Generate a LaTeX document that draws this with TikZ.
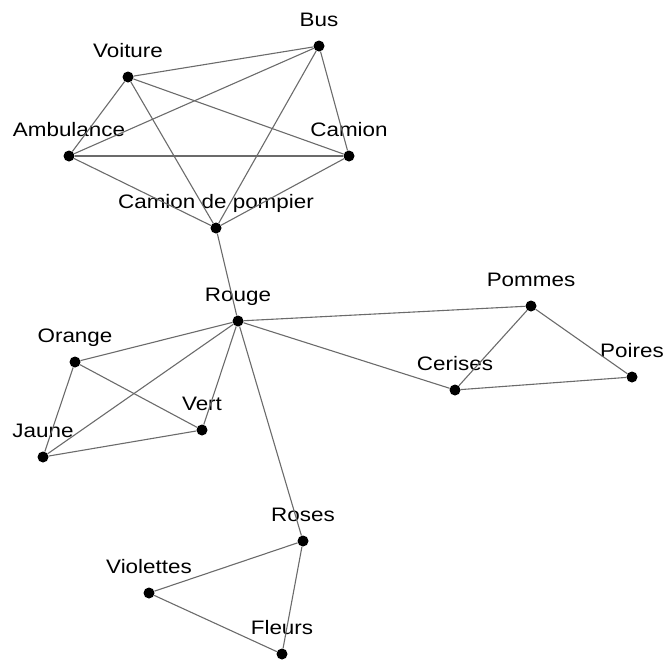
\documentclass[tikz,border=0pt]{standalone}
\usepackage{fontspec}
\newfontfamily\lblfont{Liberation Sans}[FakeStretch=1.15]
\usetikzlibrary{calc}

\begin{document}
\begin{tikzpicture}[
      x=1pt, y=-1pt,
      dot/.style={
          circle,
          fill=black,
          inner sep=0pt,
          minimum size=11pt,
          label distance=0pt
        },
      lbl/.style={
          font=\lblfont\fontsize{19.5}{19.5}\selectfont,
          inner sep=0pt,
          anchor=base,
          yshift=13.5pt
        },
      edge/.style={
          draw=black!58,
          line width=1.1pt
        }
    ]
    \useasboundingbox (0,0) rectangle (667,659);

    % Nodes
    \node[dot, label={[lbl]above:Bus}] (bus) at (319,46) {};
    \node[dot, label={[lbl]above:Voiture}] (voiture) at (128,77) {};
    \node[dot, label={[lbl]above:Ambulance}] (ambulance) at (69,156) {};
    \node[dot, label={[lbl]above:Camion}] (camion) at (349,156) {};
    \node[dot, label={[lbl]above:Camion de pompier}] (pompier) at (216,228) {};
    \node[dot, label={[lbl]above:Rouge}] (rouge) at (238,321) {};
    \node[dot, label={[lbl]above:Orange}] (orange) at (75,362) {};
    \node[dot, label={[lbl]above:Vert}] (vert) at (202,430) {};
    \node[dot, label={[lbl]above:Jaune}] (jaune) at (43,457) {};
    \node[dot, label={[lbl]above:Pommes}] (pommes) at (531,306) {};
    \node[dot, label={[lbl]above:Poires}] (poires) at (632,377) {};
    \node[dot, label={[lbl]above:Cerises}] (cerises) at (455,390) {};
    \node[dot, label={[lbl]above:Roses}] (roses) at (303,541) {};
    \node[dot, label={[lbl]above:Violettes}] (violettes) at (149,593) {};
    \node[dot, label={[lbl]above:Fleurs}] (fleurs) at (282,654) {};

    % Edges
    \draw[edge] (voiture) -- (bus);
    \draw[edge] (voiture) -- (camion);
    \draw[edge] (voiture) -- (ambulance);
    \draw[edge] (voiture) -- (pompier);
    \draw[edge] (bus) -- (ambulance);
    \draw[edge] (bus) -- (camion);
    \draw[edge] (bus) -- (pompier);
    \draw[edge] (ambulance) -- (camion);
    \draw[edge] (ambulance) -- (pompier);
    \draw[edge] (camion) -- (pompier);
    \draw[edge] (pompier) -- (rouge);
    \draw[edge] (rouge) -- (pommes);
    \draw[edge] (rouge) -- (cerises);
    \draw[edge] (pommes) -- (cerises);
    \draw[edge] (pommes) -- (poires);
    \draw[edge] (cerises) -- (poires);
    \draw[edge] (rouge) -- (orange);
    \draw[edge] (rouge) -- (jaune);
    \draw[edge] (rouge) -- (vert);
    \draw[edge] (rouge) -- (roses);
    \draw[edge] (orange) -- (vert);
    \draw[edge] (orange) -- (jaune);
    \draw[edge] (jaune) -- (vert);
    \draw[edge] (roses) -- (violettes);
    \draw[edge] (roses) -- (fleurs);
    \draw[edge] (violettes) -- (fleurs);

  \end{tikzpicture}
\end{document}
